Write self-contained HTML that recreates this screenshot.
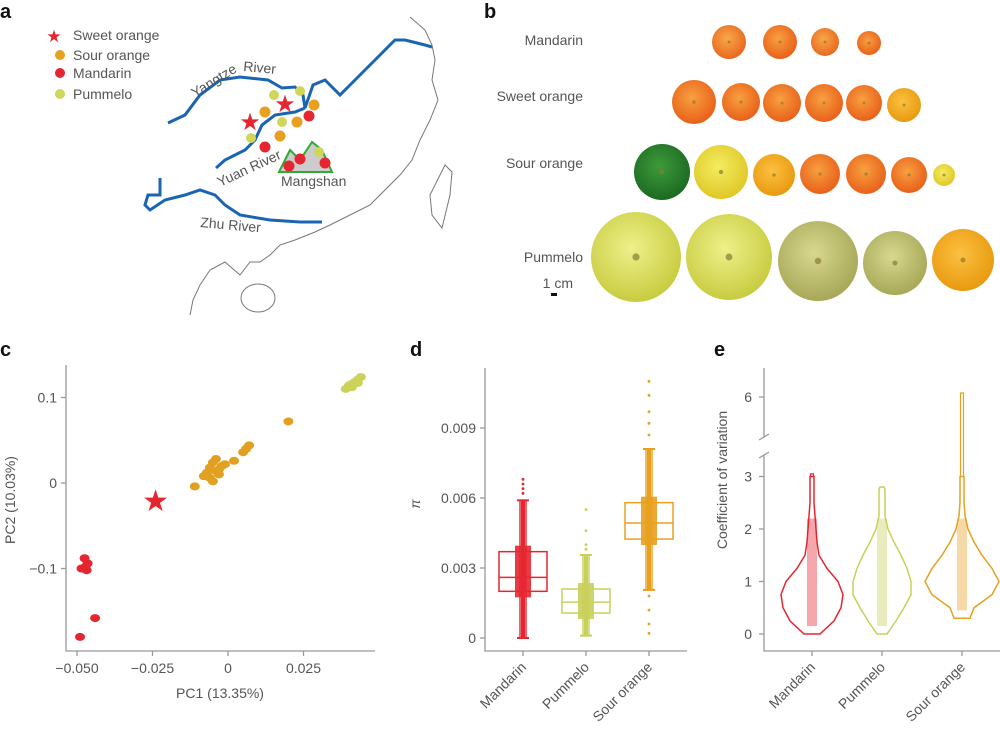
<!DOCTYPE html>
<html><head><meta charset="utf-8"><style>
body{margin:0;background:#fff;width:1000px;height:732px;overflow:hidden}
svg{font-family:"Liberation Sans",sans-serif;display:block}
.t{fill:#555;font-size:14px}
.ax{stroke:#999;stroke-width:1.3;fill:none}
</style></head><body>
<svg id="fig" width="1000" height="732" viewBox="0 0 1000 732">
<defs>
<radialGradient id="gO" cx="45%" cy="40%" r="60%"><stop offset="0" stop-color="#f8a040"/><stop offset="1" stop-color="#e8601a"/></radialGradient>
<radialGradient id="gM" cx="45%" cy="40%" r="60%"><stop offset="0" stop-color="#f8a848"/><stop offset="1" stop-color="#e86820"/></radialGradient>
<radialGradient id="gG" cx="45%" cy="40%" r="60%"><stop offset="0" stop-color="#3e9a3a"/><stop offset="1" stop-color="#1c6a22"/></radialGradient>
<radialGradient id="gY" cx="45%" cy="40%" r="60%"><stop offset="0" stop-color="#f4ec60"/><stop offset="1" stop-color="#e0c828"/></radialGradient>
<radialGradient id="gP" cx="45%" cy="40%" r="60%"><stop offset="0" stop-color="#eef08a"/><stop offset="1" stop-color="#c8cc40"/></radialGradient>
<radialGradient id="gP2" cx="45%" cy="40%" r="60%"><stop offset="0" stop-color="#d8d890"/><stop offset="1" stop-color="#a8a858"/></radialGradient>
<radialGradient id="gP3" cx="45%" cy="40%" r="60%"><stop offset="0" stop-color="#fcc040"/><stop offset="1" stop-color="#e89a10"/></radialGradient>
</defs>
<g font-weight="bold" font-size="20" fill="#111">
<text x="0" y="18">a</text><text x="484" y="18">b</text><text x="0" y="356">c</text><text x="410" y="356">d</text><text x="714" y="356">e</text>
</g>
<g id="map">
<path fill="none" stroke="#777" stroke-width="1" d="M410,17 L425,30 L432,45 L435,60 L432,80 L438,100 L430,120 L420,140 L412,160 L400,175 L385,190 L370,205 L350,215 L330,225 L315,232 L295,240 L280,245 L270,255 L260,262 L250,262 L240,275 L225,262 L210,270 L200,285 L193,300 L190,315"/>
<ellipse cx="258" cy="298" rx="17" ry="14" fill="none" stroke="#777"/>
<path fill="none" stroke="#777" d="M445,165 L452,172 L450,195 L442,228 L432,215 L430,195 Z"/>
<g fill="none" stroke="#1a64b4" stroke-width="3">
<path d="M168,123 L185,115 L200,95 L220,80 L240,77 L268,80 L282,88 L295,87 L303,95 L305,108 L313,85 L325,80 L340,95 L360,75 L380,55 L395,40 L405,40 L425,45 L432,47"/>
<path d="M216,168 L225,160 L245,150 L255,140 L262,125 L275,115 L295,112 L305,108"/>
<path d="M160,178 L160,195 L148,195 L145,205 L150,210 L165,200 L185,195 L200,190 L215,195 L225,205 L240,215 L270,220 L300,222 L322,222"/>
</g>
<path d="M279,172 L290,150 L300,160 L312,142 L322,150 L332,172 Z" fill="#ccc" stroke="#3a3" stroke-width="2"/>
<g>
<circle cx="274" cy="95" r="5" fill="#cfd65a"/><circle cx="300" cy="91" r="5" fill="#cfd65a"/><circle cx="282" cy="122" r="5" fill="#cfd65a"/><circle cx="251" cy="138" r="5" fill="#cfd65a"/><circle cx="319" cy="152" r="5" fill="#cfd65a"/>
<circle cx="265" cy="112" r="5.5" fill="#e8a020"/><circle cx="314" cy="105" r="5.5" fill="#e8a020"/><circle cx="297" cy="122" r="5.5" fill="#e8a020"/><circle cx="280" cy="136" r="5.5" fill="#e8a020"/>
<circle cx="309" cy="116" r="5.5" fill="#e52630"/><circle cx="265" cy="147" r="5.5" fill="#e52630"/><circle cx="289" cy="166" r="5.5" fill="#e52630"/><circle cx="300" cy="159" r="5.5" fill="#e52630"/><circle cx="325" cy="163" r="5.5" fill="#e52630"/>
<text x="285" y="112" font-size="24" fill="#e52630" text-anchor="middle">★</text><text x="250" y="130" font-size="24" fill="#e52630" text-anchor="middle">★</text>
</g>
<g class="t" font-size="13">
<text x="195" y="98" transform="rotate(-32 195 98)">Yangtze</text>
<text x="243" y="71" transform="rotate(5 243 71)">River</text>
<text x="220" y="187" transform="rotate(-25 220 187)">Yuan River</text>
<text x="281" y="186">Mangshan</text>
<text x="200" y="227" transform="rotate(5 200 227)">Zhu River</text>
</g>
<g class="t" font-size="13">
<text x="54" y="42" font-size="17" fill="#e52630" text-anchor="middle">★</text><text x="73" y="40">Sweet orange</text>
<circle cx="60" cy="55" r="5" fill="#e8a020"/><text x="73" y="60">Sour orange</text>
<circle cx="60" cy="73" r="5" fill="#e52630"/><text x="73" y="78">Mandarin</text>
<circle cx="60" cy="94" r="5" fill="#cfd65a"/><text x="73" y="99">Pummelo</text>
</g>
</g>
<g id="fruits"></g>
<g class="t" text-anchor="end">
<text x="583" y="45">Mandarin</text><text x="583" y="101">Sweet orange</text><text x="583" y="168">Sour orange</text><text x="583" y="262">Pummelo</text>
<text x="573" y="288">1 cm</text>
</g>
<rect x="551" y="293" width="6" height="3" fill="#111"/>
<g id="pca"></g>
<g id="boxd"></g>
<g id="viol"></g>
</svg>
<script>
const fruitRows=[
 [[729,42,17,'gM'],[780,42,17,'gO'],[825,42,14,'gM'],[869,43,12,'gO']],
 [[694,102,22,'gO'],[741,102,19,'gO'],[782,103,19,'gO'],[824,103,19,'gO'],[864,103,18,'gO'],[904,105,17,'gP3']],
 [[662,172,28,'gG'],[721,172,27,'gY'],[774,175,21,'gP3'],[820,174,20,'gO'],[866,174,20,'gO'],[909,175,18,'gO'],[944,175,11,'gY']],
 [[636,257,45,'gP'],[729,257,43,'gP'],[818,261,40,'gP2'],[895,263,32,'gP2'],[963,260,31,'gP3']]];
const NS='http://www.w3.org/2000/svg';
function mk(tag,attrs,parent){const e=document.createElementNS(NS,tag);for(const k in attrs)e.setAttribute(k,attrs[k]);parent.appendChild(e);return e;}
const fg=document.getElementById('fruits');
fruitRows.forEach(row=>row.forEach(f=>{
 const c=mk('circle',{cx:f[0],cy:f[1],r:f[2],fill:'url(#'+f[3]+')'},fg);
 
 
 mk('circle',{cx:f[0],cy:f[1],r:Math.max(1.5,f[2]*0.08),fill:'#8a7a30',opacity:0.7},fg);
}));

const pcMandX=[-0.0475,-0.0465,-0.0485,-0.0468,-0.0472,-0.0440,-0.0490];
const pcMandY=[-0.088,-0.094,-0.100,-0.102,-0.098,-0.158,-0.180];
const pcSourX=[-0.011,-0.008,-0.007,-0.006,-0.005,-0.004,-0.003,-0.002,-0.006,-0.004,-0.001,0.002,0.005,0.006,0.007,-0.005,-0.003,0.020];
const pcSourY=[-0.004,0.008,0.012,0.018,0.024,0.014,0.010,0.020,0.006,0.028,0.022,0.026,0.036,0.040,0.044,0.002,0.016,0.072];
const pcPumX=[0.039,0.040,0.041,0.042,0.043,0.044,0.041,0.043];
const pcPumY=[0.110,0.114,0.116,0.118,0.121,0.124,0.112,0.117];
const pcStarX=[-0.024], pcStarY=[-0.021];
const pcXTicks=[-0.05,-0.025,0,0.025], pcXLabels=['−0.050','−0.025','0','0.025'];
const pcYTicks=[0.1,0,-0.1], pcYLabels=['0.1','0','−0.1'];
const px=v=>228+v/0.025*75.5, py=v=>483-v/0.1*85.5;
const pg=document.getElementById('pca');
mk('path',{d:'M66,365 L66,651 L375,651',class:'ax'},pg);
pcXTicks.forEach((v,i)=>{mk('line',{x1:px(v),x2:px(v),y1:651,y2:656,class:'ax'},pg);const t=mk('text',{x:px(v),y:673,class:'t','text-anchor':'middle'},pg);t.textContent=pcXLabels[i];});
pcYTicks.forEach((v,i)=>{mk('line',{x1:61,x2:66,y1:py(v),y2:py(v),class:'ax'},pg);const t=mk('text',{x:57,y:py(v)+5,class:'t','text-anchor':'end'},pg);t.textContent=pcYLabels[i];});
let lt=mk('text',{x:220,y:698,class:'t','text-anchor':'middle'},pg);lt.textContent='PC1 (13.35%)';

lt=mk('text',{x:15,y:500,class:'t','text-anchor':'middle',transform:'rotate(-90 15 500)'},pg);lt.textContent='PC2 (10.03%)';

function pts(xs,ys,col){xs.forEach((x,i)=>{const c=mk('ellipse',{cx:px(x),cy:py(ys[i]),rx:5,ry:4,fill:col},pg);});}
pts(pcMandX,pcMandY,'#e52630');pts(pcSourX,pcSourY,'#e2a020');pts(pcPumX,pcPumY,'#cdd35a');
pcStarX.forEach((x,i)=>{const s=mk('text',{x:px(x),y:py(pcStarY[i])+10,'font-size':30,fill:'#e52630','text-anchor':'middle'},pg);s.textContent='★';});

const cats=['Mandarin','Pummelo','Sour orange'];
const colors=['#e52630','#c8d05a','#e8a020'];
const boxQ1=[0.0020,0.00107,0.00424], boxMed=[0.0026,0.00154,0.00493], boxQ3=[0.0037,0.0021,0.0058];
const whLo=[0.0,0.0001,0.00206], whHi=[0.0059,0.00356,0.0081];
const outMand=[0.0062,0.0064,0.0066,0.0068];
const outPum=[0.0038,0.0040,0.0046,0.0055];
const outSour=[0.0087,0.0092,0.0097,0.0104,0.011,0.0018,0.0012,0.0006,0.0002];
const dYTicks=[0,0.003,0.006,0.009], dYLabels=['0','0.003','0.006','0.009'];
const dx=[523,586,649], dy=v=>638-v/0.003*70;
const dg=document.getElementById('boxd');
mk('path',{d:'M485,368 L485,651 L687,651',class:'ax'},dg);
dYTicks.forEach((v,i)=>{mk('line',{x1:480,x2:485,y1:dy(v),y2:dy(v),class:'ax'},dg);const t=mk('text',{x:476,y:dy(v)+5,class:'t','text-anchor':'end'},dg);t.textContent=dYLabels[i];});
lt=mk('text',{x:420,y:504,class:'t','font-style':'italic','text-anchor':'middle',transform:'rotate(-90 420 504)'},dg);lt.textContent='π';

const outs=[outMand,outPum,outSour];
cats.forEach((c,i)=>{
 const x=dx[i],col=colors[i];
 mk('line',{x1:x,x2:x,y1:651,y2:656,class:'ax'},dg);
 const t=mk('text',{x:x+4,y:668,class:'t','text-anchor':'end',transform:`rotate(-45 ${x+4} 668)`},dg);t.textContent=c;
 
 mk('line',{x1:x,x2:x,y1:dy(whLo[i]),y2:dy(whHi[i]),stroke:col,'stroke-width':4},dg);
 mk('line',{x1:x-6,x2:x+6,y1:dy(whLo[i]),y2:dy(whLo[i]),stroke:col,'stroke-width':2},dg);
 mk('line',{x1:x-6,x2:x+6,y1:dy(whHi[i]),y2:dy(whHi[i]),stroke:col,'stroke-width':2},dg);
 const b=mk('rect',{x:x-24,y:dy(boxQ3[i]),width:48,height:dy(boxQ1[i])-dy(boxQ3[i]),fill:'none',stroke:col,'stroke-width':1.5},dg);
 
 mk('rect',{x:x-8,y:dy(boxQ3[i])-6,width:16,height:dy(boxQ1[i])-dy(boxQ3[i])+12,fill:col,opacity:0.9},dg);
 mk('rect',{x:x-4,y:dy(whHi[i]),width:8,height:dy(whLo[i])-dy(whHi[i]),fill:col,opacity:0.7},dg);
 mk('line',{x1:x-24,x2:x+24,y1:dy(boxMed[i]),y2:dy(boxMed[i]),stroke:col,'stroke-width':1.5},dg);
 outs[i].forEach(v=>{const o=mk('circle',{cx:x,cy:dy(v),r:1.4,fill:col},dg);});
});

const vGrid=[0,0.25,0.5,0.75,1,1.25,1.5,1.75,2,2.25,2.5,2.75,3];
const vMand=[8,22,29,31,26,15,7,5,4,3,2,2,2];
const vPum=[5,14,22,29,29,25,19,12,6,3,3,3,0];
const vSour=[0,0,12,30,37,30,20,12,6,3,2,2,2];
const vMin=[0,0,0.3], vMax=[3.05,2.8,6.2];
const eYTicks=[0,1,2,3,6], eYLabels=['0','1','2','3','6'];
const ex=[812,882,962];
const ey=v=>v<=3.4?634-v*52.5:397+(6-v)*20;
const eg=document.getElementById('viol');
mk('path',{d:'M764,368 L764,437 M764,455 L764,651 L1000,651',class:'ax'},eg);
mk('line',{x1:759,x2:769,y1:440,y2:434,class:'ax'},eg);mk('line',{x1:759,x2:769,y1:458,y2:452,class:'ax'},eg);
eYTicks.forEach((v,i)=>{mk('line',{x1:759,x2:764,y1:ey(v),y2:ey(v),class:'ax'},eg);const t=mk('text',{x:752,y:ey(v)+5,class:'t','text-anchor':'end'},eg);t.textContent=eYLabels[i];});
lt=mk('text',{x:727,y:480,class:'t','text-anchor':'middle',transform:'rotate(-90 727 480)'},eg);lt.textContent='Coefficient of variation';

const vw=[vMand,vPum,vSour];
cats.forEach((c,i)=>{
 const x=ex[i],col=colors[i];
 mk('line',{x1:x,x2:x,y1:651,y2:656,class:'ax'},eg);
 const t=mk('text',{x:x+4,y:668,class:'t','text-anchor':'end',transform:`rotate(-45 ${x+4} 668)`},eg);t.textContent=c;
 
 let L=[],R=[];
 vGrid.forEach((g,k)=>{if(g<vMin[i]-0.01||g>Math.min(vMax[i],3))return;L.push([x-vw[i][k],ey(g)]);R.push([x+vw[i][k],ey(g)]);});
 L.unshift([x-(i==2?8:5),ey(vMin[i])]);R.unshift([x+(i==2?8:5),ey(vMin[i])]);
 const top=Math.min(vMax[i],3);
 L.push([x-2,ey(vMax[i]>3?top:vMax[i])]);R.push([x+2,ey(vMax[i]>3?top:vMax[i])]);
 const d='M'+L.map(p=>p.join(',')).join(' L')+' L'+R.reverse().map(p=>p.join(',')).join(' L')+' Z';
 const v=mk('path',{d:d,fill:'none',stroke:col,'stroke-width':1.5},eg);
 
 if(vMax[i]>3){mk('path',{d:`M${x-1.5},${ey(3)} L${x-1.5},${ey(vMax[i])} L${x+1.5},${ey(vMax[i])} L${x+1.5},${ey(3)}`,fill:'none',stroke:col,'stroke-width':1.2},eg);}
 const s=mk('rect',{x:x-5,y:ey(2.2),width:10,height:ey(vMin[i]+0.15)-ey(2.2),fill:col,opacity:0.4},eg);
 
});
</script>
</body></html>
